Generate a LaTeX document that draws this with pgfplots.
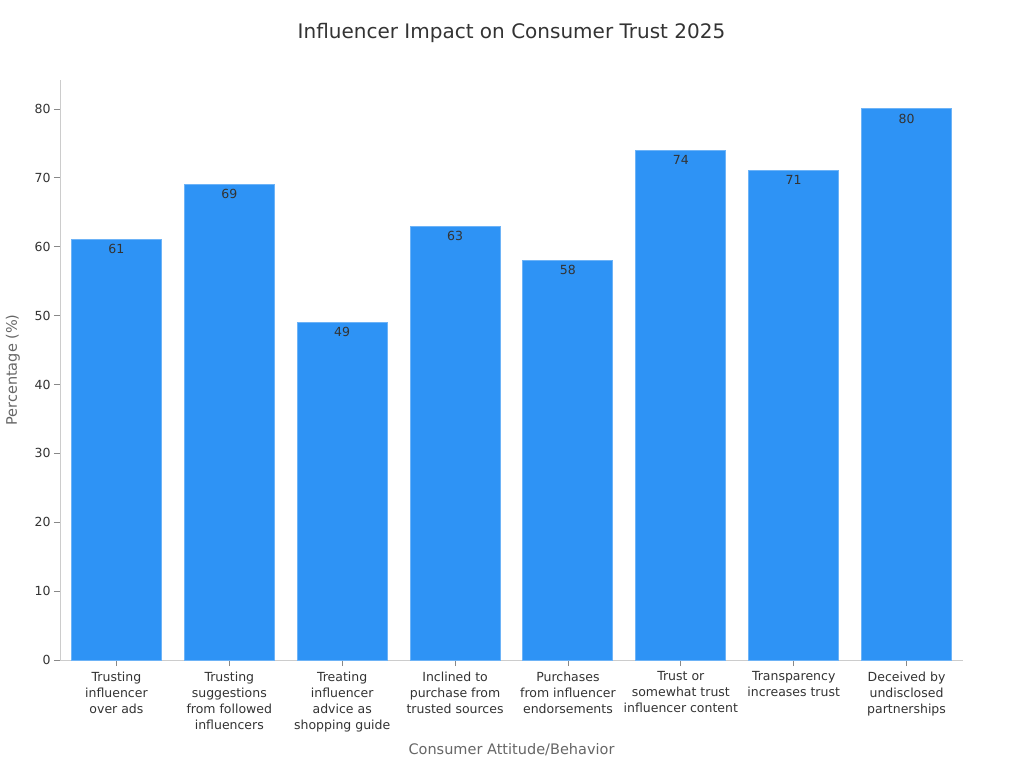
\documentclass[border=0pt]{standalone}
\usepackage{pgfplots}
\pgfplotsset{compat=1.18}
\usepackage{fontspec}
\setmainfont{DejaVu Sans}
\definecolor{barblue}{HTML}{2E93F5}
\definecolor{baredge}{HTML}{6DB3F7}
\definecolor{axgray}{HTML}{CCCCCC}
\definecolor{tickgray}{HTML}{888888}
\definecolor{txt}{HTML}{333333}
\definecolor{labgray}{HTML}{666666}
\begin{document}
\begin{tikzpicture}[x=1pt,y=1pt]
\path[use as bounding box] (-60,-108) rectangle (964,660);
\begin{axis}[
  at={(0,0)}, anchor=south west,
  scale only axis, width=903pt, height=580pt,
  xmin=-0.5, xmax=7.5, ymin=0, ymax=84.2,
  axis x line*=bottom, axis y line*=left,
  axis line style={draw=axgray, line width=0.8pt, -},
  tick align=outside, major tick length=6pt,
  tick style={draw=tickgray, line width=0.8pt},
  ytick={0,10,...,80},
  xtick=data,
  xticklabels={{Trusting\\influencer\\over ads},{Trusting\\suggestions\\from followed\\influencers},{Treating\\influencer\\advice as\\shopping guide},{Inclined to\\purchase from\\trusted sources},{Purchases\\from influencer\\endorsements},{Trust or\\somewhat trust\\influencer content},{Transparency\\increases trust},{Deceived by\\undisclosed\\partnerships}},
  xticklabel style={align=center, font=\fontsize{12.5}{16}\selectfont, text=txt, yshift=-2pt},
  yticklabel style={font=\fontsize{12.5}{15}\selectfont, text=txt},
  /pgf/number format/assume math mode=true,
  ybar, bar width=90pt,
  nodes near coords,
  every node near coord/.append style={anchor=north, font=\fontsize{12.5}{15}\selectfont, text=txt, yshift=-1pt},
  ylabel={Percentage (\%)},
  every axis y label/.style={at={(axis description cs:0,0.5)}, rotate=90, anchor=center, yshift=47pt, font=\fontsize{14.5}{17}\selectfont, text=labgray},
  xlabel={Consumer Attitude/Behavior},
  every axis x label/.style={at={(axis description cs:0.5,0)}, anchor=center, yshift=-90pt, font=\fontsize{14.5}{17}\selectfont, text=labgray},
  title={Influencer Impact on Consumer Trust 2025},
  every axis title/.style={at={(axis description cs:0.5,1)}, anchor=center, yshift=47pt, font=\fontsize{20}{24}\selectfont, text=txt},
  clip=false,
]
\addplot[fill=barblue, draw=baredge, line width=1pt] coordinates {(0,61) (1,69) (2,49) (3,63) (4,58) (5,74) (6,71) (7,80)};
\end{axis}
\end{tikzpicture}
\end{document}
